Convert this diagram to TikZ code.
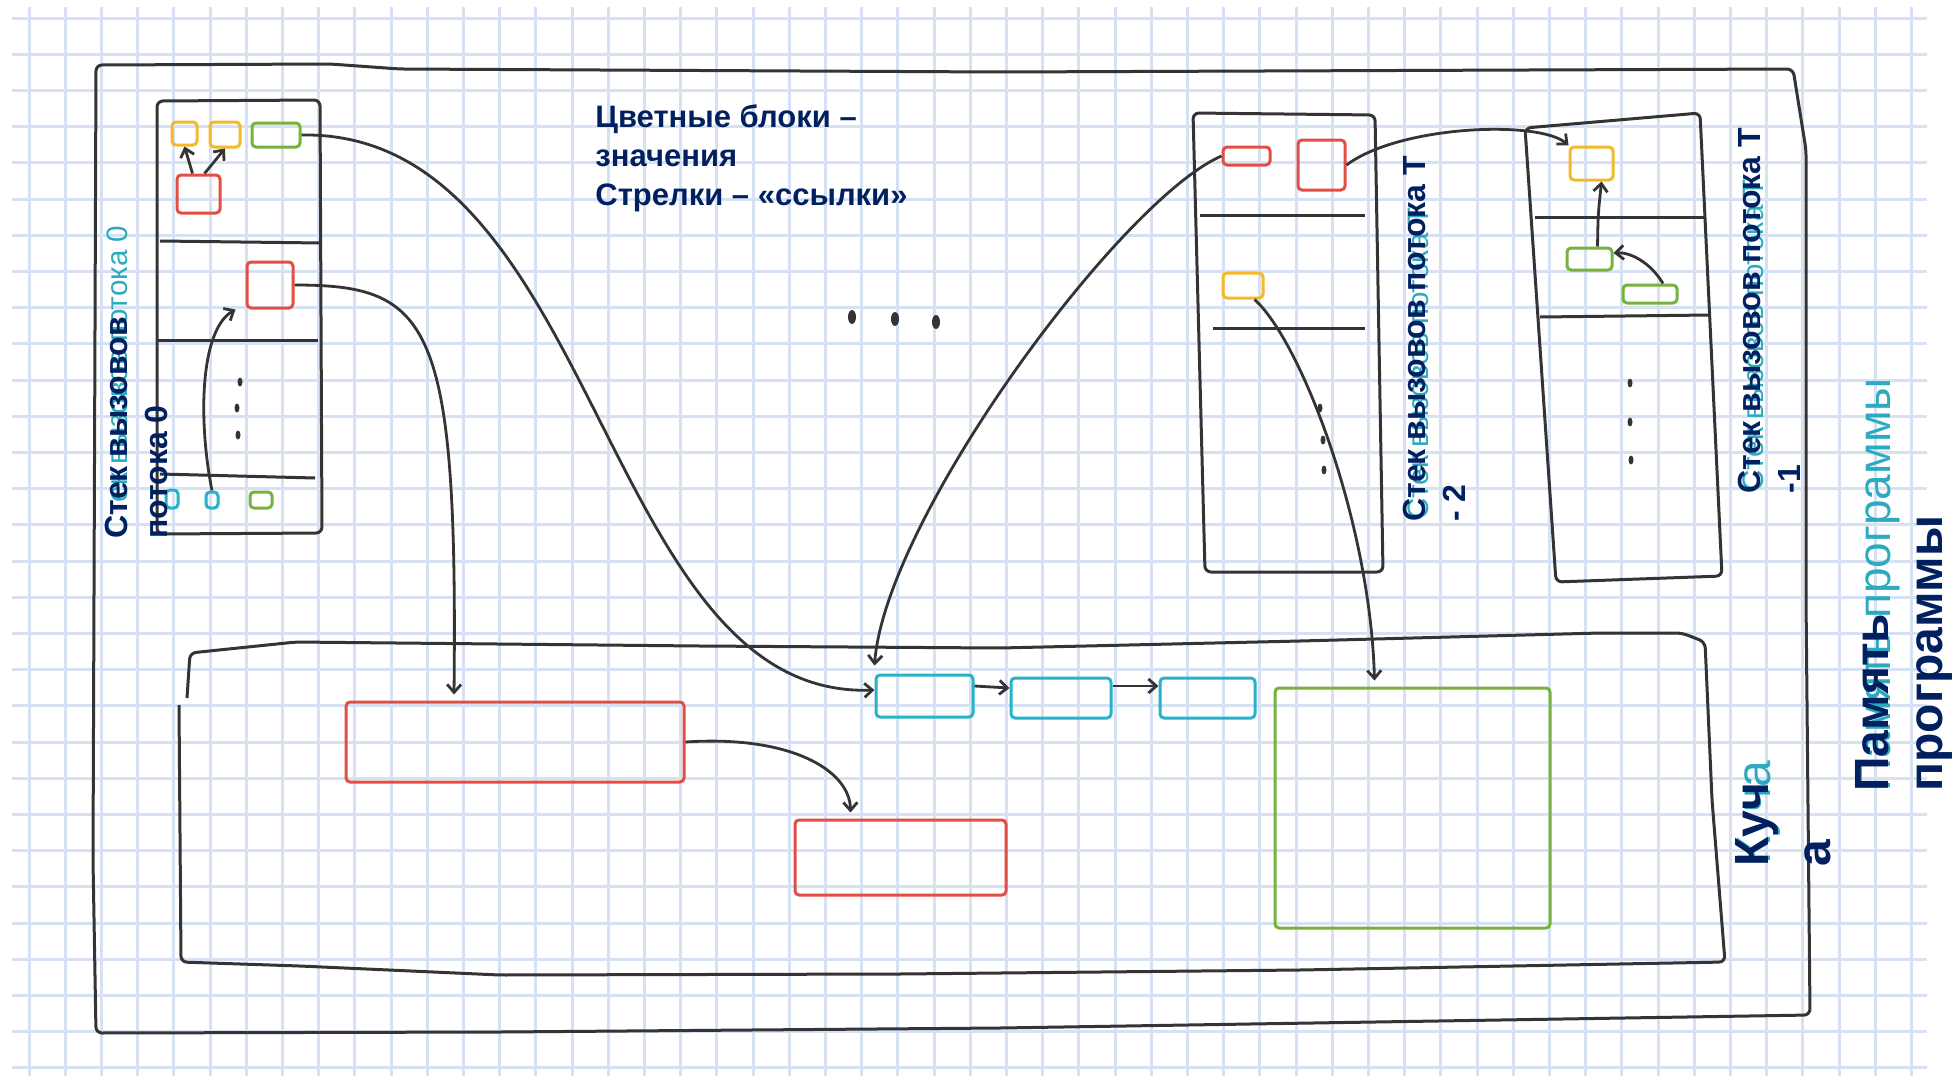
\documentclass[tikz,border=0pt]{standalone}
\usepackage{fontspec}
\setmainfont{Liberation Sans}
\usetikzlibrary{arrows.meta,fit}
\definecolor{navytext}{RGB}{0,32,96}
\definecolor{tealtext}{RGB}{45,170,192}
\definecolor{gridblue}{RGB}{214,226,244}
\definecolor{pen}{RGB}{52,52,52}
\definecolor{penred}{RGB}{226,78,68}
\definecolor{penyellow}{RGB}{242,186,40}
\definecolor{pengreen}{RGB}{118,178,60}
\definecolor{pencyan}{RGB}{38,178,200}
\begin{document}
\begin{tikzpicture}
[x=0.5pt,y=-0.5pt,
  gridline/.style={gridblue,line width=1.5pt},
  frame/.style={pen,line width=1.5pt,line join=round,rounded corners=3pt},
  block/.style={draw=#1,line width=1.5pt,rounded corners=2pt,inner sep=0pt},
  ref/.style={pen,line width=1.4pt,-{Straight Barb[length=4pt,width=7pt]}},
  navylabel/.style={rotate=90,anchor=base west,inner sep=0pt,text=navytext,
    font=\bfseries\fontsize{#1}{#1}\selectfont},
  teallabel/.style={rotate=90,anchor=base west,inner sep=0pt,text=tealtext,
    font=\fontsize{#1}{#1}\selectfont}]
%% squared paper
\fill[white] (0,0) rectangle (1957,1076);
\useasboundingbox (0,0) rectangle (1957,1076);
\foreach \k in {0,...,52}
  \draw[gridline] ({29+36.2*\k},7) -- ({29+36.2*\k},1076);
\foreach \k in {0,...,29}
  \draw[gridline] (12,{18+36.2*\k}) -- (1927,{18+36.2*\k});
%% program memory, heap and the three call stacks
\draw[frame] (96,1033) -- (93,860) -- (96,65) -- (330,64) -- (400,69) -- (1000,72)
  -- (1793,69) -- (1806,150) -- (1806,600) -- (1810,1015) -- (1500,1020)
  -- (1000,1028) -- (500,1032) -- cycle;
\draw[frame] (187,698) -- (190,653) -- (296,642) -- (700,646) -- (1000,648)
  -- (1300,641) -- (1600,633) -- (1682,633) -- (1705,642) -- (1712,800)
  -- (1725,962) -- (1300,970) -- (900,974) -- (500,975) -- (300,966)
  -- (181,962) -- (179,705);
\draw[frame] (157,101) -- (320,100) -- (322,533) -- (157,534) -- cycle;
\draw[frame] (1193,113) -- (1375,115) -- (1383,572) -- (1205,572) -- cycle;
\draw[frame] (1525,128) -- (1700,113) -- (1722,576) -- (1556,582) -- cycle;
%% frame separators
\foreach \xa/\ya/\xb/\yb in {160/241/322/243, 158/340/318/340, 160/474/315/478,
  1200/215/1365/215, 1213/328/1365/328, 1535/217/1705/217, 1540/317/1710/315}
  \draw[frame] (\xa,\ya) -- (\xb,\yb);
%% dots
\foreach \x/\y in {240/382, 237/408, 238/435, 1320/408, 1323/440, 1324/470,
  1630/383, 1630/422, 1631/460}
  \fill[pen] (\x,\y) ellipse [x radius=2.5, y radius=4.5];
\foreach \x/\y in {852/317, 895/319, 936/322}
  \fill[pen] (\x,\y) ellipse [x radius=4, y radius=7];
%% values
\foreach \blockname/\pencolour/\xa/\ya/\xb/\yb in {
  s0y1/penyellow/172/122/197/145, s0y2/penyellow/210/122/240/147,
  s0g/pengreen/252/123/300/147, s0r1/penred/177/175/220/213,
  s0r2/penred/247/262/293/308, s0c1/pencyan/166/490/178/508,
  s0c2/pencyan/206/492/218/508, s0g2/pengreen/250/492/272/508,
  t2r1/penred/1223/147/1270/165, t2r2/penred/1298/140/1345/190,
  t2y/penyellow/1223/273/1263/298,
  t1y/penyellow/1570/147/1613/180, t1g1/pengreen/1567/248/1612/270,
  t1g2/pengreen/1623/285/1677/303,
  hr1/penred/346/702/684/782, hr2/penred/795/820/1006/895,
  hc1/pencyan/876/675/973/717, hc2/pencyan/1011/678/1111/718,
  hc3/pencyan/1160/678/1255/718, hg/pengreen/1275/688/1550/928}
  \node[block=\pencolour,fit={(\xa,\ya) (\xb,\yb)}] (\blockname) {};
%% references
\draw[ref] ([xshift=-3pt]s0r1.north) -- (s0y1.south);
\draw[ref] ([xshift=3pt]s0r1.north) -- (s0y2.south);
\draw[ref] (s0c2.north) .. controls (198,420) and (200,330) .. ([xshift=-5pt]s0r2.south west);
\draw[ref] (s0r2.east) .. controls (430,285) and (458,320) .. ([xshift=-30.5pt,yshift=3pt]hr1.north);
\draw[ref] (s0g.east) .. controls (600,130) and (600,700) .. ([yshift=3pt]hc1.west);
\draw[ref] (t2r1.west) .. controls (1120,200) and (885,520) .. ([xshift=-25pt,yshift=4pt]hc1.north);
\draw[ref] (t2r2.east) .. controls (1400,125) and (1540,120) .. (t1y.north west);
\draw[ref] ([xshift=-5pt]t2y.south east) .. controls (1300,340) and (1370,520) .. ([xshift=-19pt,yshift=3pt]hg.north);
\draw[ref] (hr1.east) .. controls (790,735) and (850,770) .. ([xshift=-25pt,yshift=3pt]hr2.north);
\draw[ref] ([yshift=5pt]hc1.east) -- ([yshift=5pt]hc2.west);
\draw[ref] ([yshift=6pt]hc2.east) -- ([yshift=6pt]hc3.west);
\draw[ref] ([xshift=4pt]t1g1.north) .. controls (1598,215) .. ([xshift=5pt]t1y.south);
\draw[ref] ([xshift=6.5pt]t1g2.north) .. controls (1650,262) and (1630,252) .. ([yshift=3pt]t1g1.east);
%% legend
\node[anchor=north west,align=left,inner sep=0pt,text=navytext,
  font=\bfseries\fontsize{15.5}{19.5}\selectfont] (legend) at (595,104)
  {Цветные блоки –\\значения\\Стрелки – «ссылки»};
%% captions
\node[teallabel=14.8] (s0cap) at (127,537) {Стек вызовов потока 0};
\node[navylabel=16] (s0capa) at (127,539) {Стек вызовов};
\node[navylabel=16] (s0capb) at (167,539) {потока 0};
\node[teallabel=14.8] (t2cap) at (1428,520) {Стек вызовов потока T};
\node[navylabel=16] (t2capa) at (1425,522) {Стек вызовов потока T};
\node[navylabel=16] (t2capb) at (1465,522) {- 2};
\node[teallabel=14.8] (t1cap) at (1763,492) {Стек вызовов потока T};
\node[navylabel=16] (t1capa) at (1760,494) {Стек вызовов потока T};
\node[navylabel=16] (t1capb) at (1800,494) {-1};
\node[teallabel=24] (heapcap) at (1770,865) {Куча};
\node[navylabel=24] (heapcapa) at (1768,867) {Куч};
\node[navylabel=24] (heapcapb) at (1830,867) {а};
\node[teallabel=23] (memcap) at (1890,792) {Память программы};
\node[navylabel=24] (memcapa) at (1888,792) {Память};
\node[navylabel=24] (memcapb) at (1942,792) {программы};
\end{tikzpicture}
\end{document}
